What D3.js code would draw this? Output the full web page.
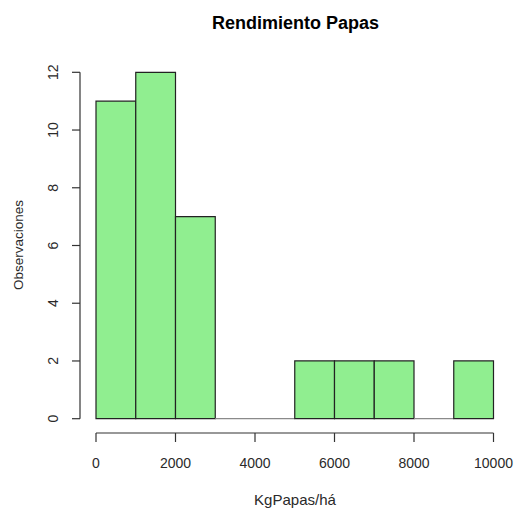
<!DOCTYPE html>
<html>
<head>
<meta charset="utf-8">
<script src="https://cdn.jsdelivr.net/npm/d3@7"></script>
<style>
  html, body { margin: 0; padding: 0; background: #fff; }
  svg text { font-family: "Liberation Sans", Arial, sans-serif; fill: #2a2a2a; }
</style>
</head>
<body>
<svg id="chart" width="517" height="508"></svg>
<script>
// Histogram bins of potato yield (kg/ha)
const binStarts = [0, 1000, 2000, 3000, 4000, 5000, 6000, 7000, 8000, 9000];
const binWidth = 1000;
const counts = [11, 12, 7, 0, 0, 2, 2, 2, 0, 2];
const xTicks = [0, 2000, 4000, 6000, 8000, 10000];
const yTicks = [0, 2, 4, 6, 8, 10, 12];

const svg = d3.select("#chart");

const x = d3.scaleLinear().domain([0, 10000]).range([96, 493.5]);
const y = d3.scaleLinear().domain([0, 12]).range([418.7, 72.3]);

// bars drawn as closed paths so empty bins still show their flat outline
svg.append("g").selectAll("path")
  .data(binStarts.map((s, i) => ({ s, c: counts[i] })))
  .join("path")
  .attr("d", d => {
    const x0 = x(d.s), x1 = x(d.s + binWidth), y0 = y(0), y1 = y(d.c);
    return `M${x0},${y0}L${x0},${y1}L${x1},${y1}L${x1},${y0}Z`;
  })
  .attr("fill", "#90EE90")
  .attr("stroke", d => d.c === 0 ? "#8a8a8a" : "#222")
  .attr("stroke-width", 1.2);

// x axis
const xAxis = svg.append("g").attr("transform", "translate(0,433)");
xAxis.append("line")
  .attr("x1", x(0)).attr("x2", x(10000))
  .attr("stroke", "#333").attr("stroke-width", 1.2);
xAxis.selectAll("line.tick").data(xTicks).join("line")
  .attr("class", "tick")
  .attr("x1", d => x(d)).attr("x2", d => x(d))
  .attr("y1", 0).attr("y2", 9)
  .attr("stroke", "#333").attr("stroke-width", 1.2);
xAxis.selectAll("text").data(xTicks).join("text")
  .attr("x", d => x(d)).attr("y", 35)
  .attr("text-anchor", "middle")
  .attr("font-size", 14)
  .text(d => d);

// y axis
const yAxis = svg.append("g").attr("transform", "translate(80,0)");
yAxis.append("line")
  .attr("y1", y(0)).attr("y2", y(12))
  .attr("stroke", "#333").attr("stroke-width", 1.2);
yAxis.selectAll("line.tick").data(yTicks).join("line")
  .attr("class", "tick")
  .attr("y1", d => y(d)).attr("y2", d => y(d))
  .attr("x1", 0).attr("x2", -8)
  .attr("stroke", "#333").attr("stroke-width", 1.2);
yAxis.selectAll("text").data(yTicks).join("text")
  .attr("transform", d => `translate(-22,${y(d)}) rotate(-90)`)
  .attr("text-anchor", "middle")
  .attr("font-size", 14)
  .text(d => d);

// titles
svg.append("text")
  .attr("x", 295.5).attr("y", 29)
  .attr("text-anchor", "middle")
  .attr("font-size", 18)
  .attr("font-weight", "bold")
  .style("fill", "#000")
  .text("Rendimiento Papas");

svg.append("text")
  .attr("x", 295).attr("y", 505)
  .attr("text-anchor", "middle")
  .attr("font-size", 14.5)
  .attr("textLength", 82)
  .attr("lengthAdjust", "spacingAndGlyphs")
  .text("KgPapas/há");

svg.append("text")
  .attr("transform", `translate(22.5,${(y(0) + y(12)) / 2 - 0.5}) rotate(-90)`)
  .attr("text-anchor", "middle")
  .attr("font-size", 13.5)
  .text("Observaciones");
</script>
</body>
</html>
